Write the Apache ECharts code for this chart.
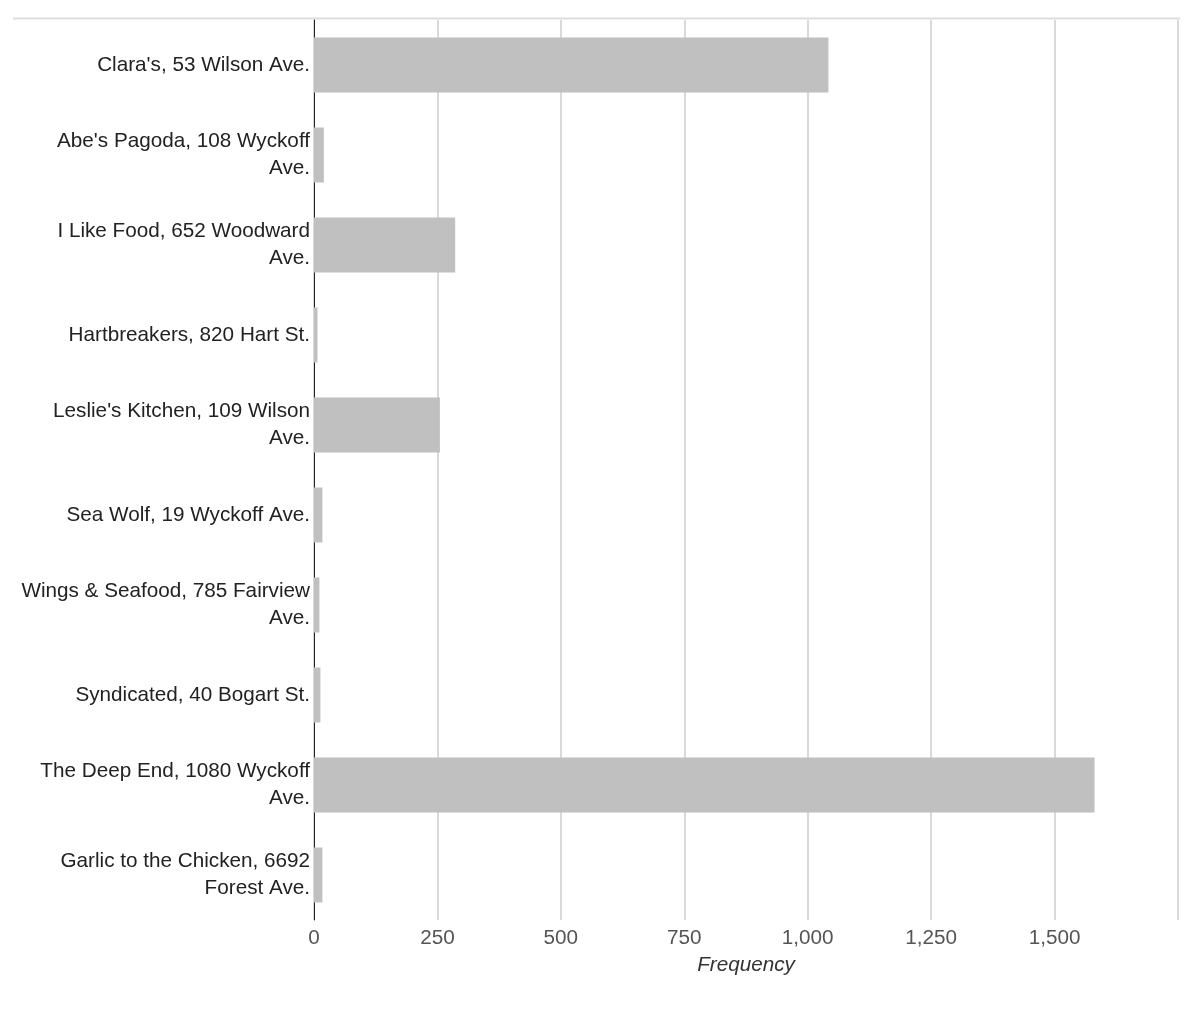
<!DOCTYPE html>
<html>
<head>
<meta charset="utf-8">
<script src="https://cdn.jsdelivr.net/npm/echarts@6/dist/echarts.min.js"></script>
<style>
  html, body { margin: 0; padding: 0; background: #fff; }
  #chart { width: 1198px; height: 1010px; }
</style>
</head>
<body>
<div id="chart"></div>
<script>
// 餐馆名称（自上而下）
const places = [
  "Clara's, 53 Wilson Ave.",
  "Abe's Pagoda, 108 Wyckoff Ave.",
  "I Like Food, 652 Woodward Ave.",
  "Hartbreakers, 820 Hart St.",
  "Leslie's Kitchen, 109 Wilson Ave.",
  "Sea Wolf, 19 Wyckoff Ave.",
  "Wings & Seafood, 785 Fairview Ave.",
  "Syndicated, 40 Bogart St.",
  "The Deep End, 1080 Wyckoff Ave.",
  "Garlic to the Chicken, 6692 Forest Ave."
];
// 频次
const frequency = [1042, 20, 286, 7, 255, 17, 11, 13, 1581, 17];

const FONT = "Liberation Sans";
const FS = 20.7;
const LABEL_W = 294;

// 按词换行，行尾不留空格
const ctx = document.createElement("canvas").getContext("2d");
ctx.font = FS + "px '" + FONT + "'";
function wrap(text) {
  const words = text.split(" ");
  const lines = [];
  let cur = "";
  words.forEach((w) => {
    const test = cur ? cur + " " + w : w;
    if (cur && ctx.measureText(test).width > LABEL_W) {
      lines.push(cur);
      cur = w;
    } else {
      cur = test;
    }
  });
  if (cur) lines.push(cur);
  return lines.join("\n");
}

const chart = echarts.init(document.getElementById("chart"), null, { renderer: "canvas" });

chart.setOption({
  animation: false,
  grid: { left: 314, right: 20, top: 20, bottom: 90, containLabel: false },
  graphic: [{
    type: "line",
    shape: { x1: 13, y1: 18.5, x2: 1180, y2: 18.5 },
    style: { stroke: "#dddddd", lineWidth: 2 }
  }],
  xAxis: {
    type: "value",
    min: 0,
    max: 1750,
    interval: 250,
    name: "Frequency",
    nameLocation: "middle",
    nameGap: 35,
    nameTextStyle: { fontFamily: FONT, fontSize: FS, fontStyle: "italic", color: "#333" },
    axisLine: { show: false },
    axisTick: { show: false },
    axisLabel: {
      margin: 8,
      fontFamily: FONT,
      fontSize: FS,
      color: "#555",
      showMaxLabel: false,
      formatter: (v) => v.toLocaleString("en-US")
    },
    splitLine: { show: true, lineStyle: { color: "#d9d9d9", width: 2 } }
  },
  yAxis: {
    type: "category",
    inverse: true,
    data: places,
    axisLine: { show: true, lineStyle: { color: "#222", width: 1 } },
    axisTick: { show: false },
    splitLine: { show: false },
    axisLabel: {
      margin: 4,
      fontFamily: FONT,
      fontSize: FS,
      color: "#222",
      lineHeight: 27,
      padding: [6, 0, 0, 0],
      align: "right",
      formatter: wrap
    }
  },
  series: [{
    type: "bar",
    data: frequency,
    barWidth: 55,
    itemStyle: { color: "#c0c0c0" },
    silent: true
  }]
});
</script>
</body>
</html>
